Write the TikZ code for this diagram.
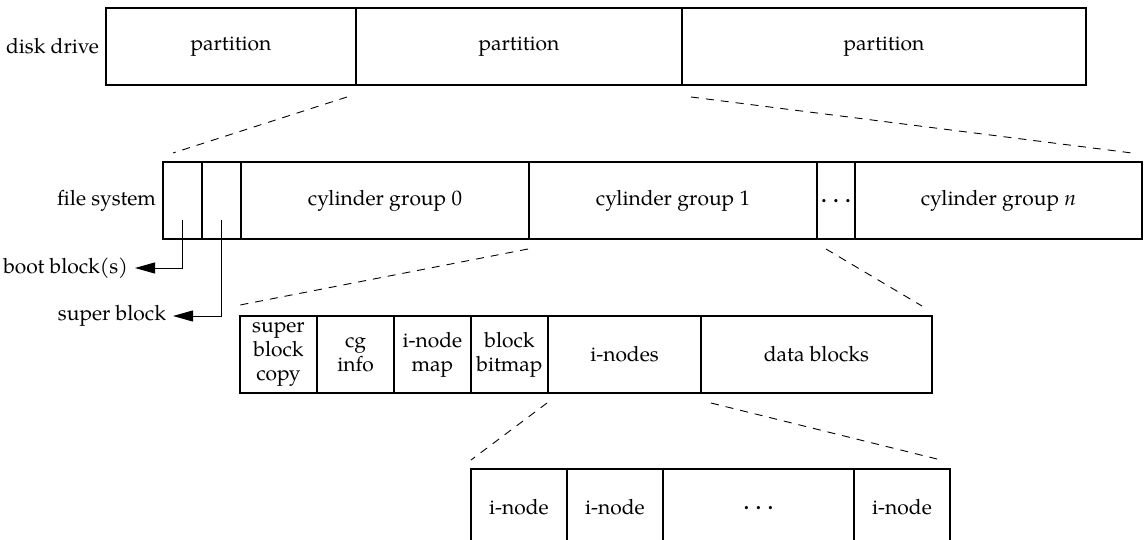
\documentclass[tikz,border=0pt]{standalone}
\usepackage{fontspec}
\setmainfont{texgyrepagella}[Extension=.otf,UprightFont=*-regular,ItalicFont=*-italic,BoldFont=*-bold,BoldItalicFont=*-bolditalic]
\usepackage{tikz}
\usetikzlibrary{arrows.meta,positioning,calc}
\newcommand{\spdots}{\textbf{.\hspace{3.4pt}.\hspace{3.4pt}.}\vphantom{g}}

\begin{document}
\begin{tikzpicture}[x=0.5pt,y=-0.5pt,every node/.style={font=\fontsize{10.5pt}{12pt}\selectfont},
  cell/.style={draw,line width=0.6pt,minimum height=38.5pt,inner sep=1pt,outer sep=0pt,align=center},
  zoomline/.style={dash pattern=on 4pt off 3.5pt,line width=0.45pt},
  ptr/.style={line width=0.5pt,-{Triangle[length=10pt,width=5.5pt]}}]
  \useasboundingbox (0,0) rectangle (1145,540);
  \clip (0,0) rectangle (1145,540);

  % disk drive
  \node[cell,minimum width=125pt] (p1) at (231,46.5) {partition};
  \node[cell,minimum width=163pt,right=0pt of p1] (p2) {partition};
  \node[cell,minimum width=202pt,right=0pt of p2] (p3) {partition};
  \node[left=0pt of p1] (dd) {disk drive};

  % file system
  \node[cell,minimum width=19.5pt] (bb) at (182.5,200.5) {};
  \node[cell,minimum width=19.5pt,right=0pt of bb] (sb) {};
  \node[cell,minimum width=144pt,right=0pt of sb] (cg0) {cylinder group 0};
  \node[cell,minimum width=144pt,right=0pt of cg0] (cg1) {cylinder group 1};
  \node[cell,minimum width=19pt,right=0pt of cg1] (cgd) {\spdots};
  \node[cell,minimum width=143.5pt,right=0pt of cgd] (cgn) {cylinder group \textit{n}};
  \node[left=0pt of bb] (fs) {file system};

  \node[anchor=east] (bbl) at (135,268) {boot block(s)};
  \node[anchor=east] (sbl) at (173,316) {super block};
  \draw[ptr] ([yshift=9.5pt]bb.south) |- (bbl.east);
  \draw[ptr] ([yshift=9.5pt]sb.south) |- (sbl.east);

  % cylinder group
  \node[cell,minimum width=38.5pt] (sbc) at (278.5,354.5) {super\\block\\copy};
  \node[cell,minimum width=38.5pt,right=0pt of sbc] (cgi) {cg\\info};
  \node[cell,minimum width=38.5pt,right=0pt of cgi] (imap) {i-node\\map};
  \node[cell,minimum width=38.5pt,right=0pt of imap] (bmap) {block\\bitmap};
  \node[cell,minimum width=76.5pt,right=0pt of bmap] (ind) {i-nodes};
  \node[cell,minimum width=115.5pt,right=0pt of ind] (data) {data blocks};

  % i-nodes
  \node[cell,minimum width=48pt] (in1) at (519,507.5) {i-node};
  \node[cell,minimum width=48pt,right=0pt of in1] (in2) {i-node};
  \node[cell,minimum width=95.5pt,right=0pt of in2] (ind2) {\spdots};
  \node[cell,minimum width=48pt,right=0pt of ind2] (inl) {i-node};

  \draw[zoomline] ([shift={(-9,12)}]p2.south west) -- ([shift={(10,-9)}]bb.north west);
  \draw[zoomline] ([shift={(9,12)}]p3.south west) -- ([shift={(-10,-9)}]cgn.north east);
  \draw[zoomline] ([shift={(-1,10)}]cg1.south west) -- ([shift={(0,-11)}]sbc.north west);
  \draw[zoomline] ([shift={(9,10)}]cg1.south east) -- ([shift={(-10,-10)}]data.north east);
  \draw[zoomline] ([shift={(-1,10)}]ind.south west) -- ([shift={(0,-9)}]in1.north west);
  \draw[zoomline] ([shift={(10,10)}]ind.south east) -- ([shift={(-9,-9)}]inl.north east);
\end{tikzpicture}
\end{document}
